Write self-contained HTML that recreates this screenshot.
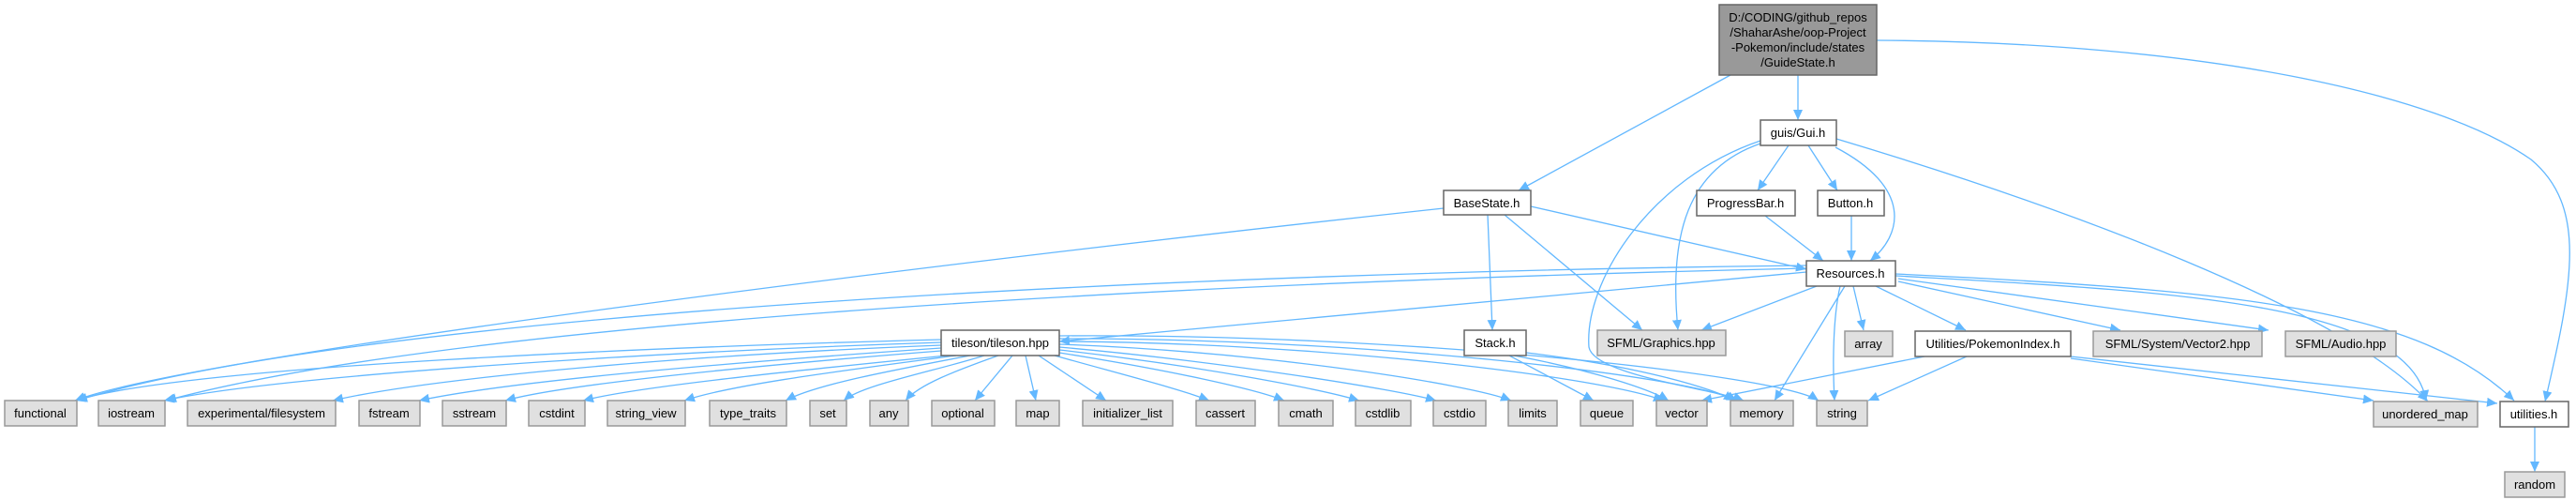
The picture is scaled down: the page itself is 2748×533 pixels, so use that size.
<!DOCTYPE html>
<html><head><meta charset="utf-8"><style>
html,body{margin:0;padding:0;background:#fff;width:2748px;height:533px;overflow:hidden}
svg text{font-family:"Liberation Sans",sans-serif;font-size:13px;fill:#000;text-anchor:middle}
.e{fill:none;stroke:#63b8ff;stroke-width:1.3;marker-end:url(#a)}
.w{fill:#fff;stroke:#666;stroke-width:1.5}
.g{fill:#e0e0e0;stroke:#999;stroke-width:1.5}
</style></head><body>
<svg width="2748" height="533" viewBox="0 0 2748 533" xmlns="http://www.w3.org/2000/svg">
<defs><marker id="a" markerUnits="userSpaceOnUse" markerWidth="12" markerHeight="10" refX="11" refY="5" orient="auto"><path d="M0,0 L11,5 L0,10 z" fill="#63b8ff"/></marker></defs>
<g>
<path class="e" d="M1004,362 C700,370 200,390 80,427"/>
<path class="e" d="M1004,365 C700,375 300,400 175,427"/>
<path class="e" d="M1004,368 C700,380 450,405 355,427"/>
<path class="e" d="M1004,371 C800,385 550,405 447,427"/>
<path class="e" d="M1004,374 C800,390 600,410 539,427"/>
<path class="e" d="M1010,379 C850,395 680,412 622,427"/>
<path class="e" d="M1020,379 C900,395 780,410 730,427"/>
<path class="e" d="M1035,379 C950,395 870,410 838,427"/>
<path class="e" d="M1050,379 C1000,395 920,410 900,427"/>
<path class="e" d="M1065,379 C1020,395 980,410 966,427"/>
<path class="e" d="M1080,379 L1040,427"/>
<path class="e" d="M1094,379 L1105,427"/>
<path class="e" d="M1108,379 L1180,427"/>
<path class="e" d="M1125,379 C1200,400 1260,415 1290,427"/>
<path class="e" d="M1130,376 C1250,395 1340,415 1370,427"/>
<path class="e" d="M1130,373 C1280,390 1410,415 1450,427"/>
<path class="e" d="M1130,370 C1300,385 1490,415 1532,427"/>
<path class="e" d="M1130,367 C1350,375 1570,410 1612,427"/>
<path class="e" d="M1130,364 C1400,365 1700,400 1775,427"/>
<path class="e" d="M1130,361 C1450,360 1800,400 1853,427"/>
<path class="e" d="M1130,358 C1500,355 1900,400 1940,427"/>
<path class="e" d="M1610,379 L1700,427"/>
<path class="e" d="M1615,379 C1700,395 1760,415 1780,427"/>
<path class="e" d="M1620,375 C1750,390 1830,415 1850,427"/>
<path class="e" d="M1540,222 C1000,280 200,380 80,427"/>
<path class="e" d="M1633,220 L1927,287"/>
<path class="e" d="M1587,229 L1592,352"/>
<path class="e" d="M1605,229 L1752,352"/>
<path class="e" d="M1846,80 L1620,203"/>
<path class="e" d="M1918,80 L1918,128"/>
<path class="e" d="M2002,43 C2350,45 2600,100 2700,170 C2760,220 2745,300 2715,428"/>
<path class="e" d="M1908,155 L1875,203"/>
<path class="e" d="M1929,155 L1960,203"/>
<path class="e" d="M1958,157 C2040,200 2030,250 1995,278"/>
<path class="e" d="M1878,153 C1800,180 1780,250 1790,352"/>
<path class="e" d="M1878,150 C1760,190 1690,300 1695,370 C1700,400 1830,415 1860,427"/>
<path class="e" d="M1959,148 C2200,220 2500,330 2590,428"/>
<path class="e" d="M1883,230 L1945,278"/>
<path class="e" d="M1975,230 L1975,278"/>
<path class="e" d="M1927,290 L1130,364"/>
<path class="e" d="M1927,283 C1300,290 400,330 82,427"/>
<path class="e" d="M1927,286 C1300,300 500,340 177,427"/>
<path class="e" d="M1938,305 L1815,352"/>
<path class="e" d="M1968,305 L1893,427"/>
<path class="e" d="M1963,305 C1955,340 1955,390 1957,427"/>
<path class="e" d="M1977,305 L1988,352"/>
<path class="e" d="M2001,305 L2097,352"/>
<path class="e" d="M2025,300 L2262,352"/>
<path class="e" d="M2025,297 L2420,352"/>
<path class="e" d="M2022,294 C2300,310 2570,320 2588,427"/>
<path class="e" d="M2022,292 C2400,310 2580,330 2682,427"/>
<path class="e" d="M2053,380 L1815,427"/>
<path class="e" d="M2098,380 L1993,427"/>
<path class="e" d="M2209,382 L2532,427"/>
<path class="e" d="M2209,380 L2664,430"/>
<path class="e" d="M2704,455 L2704,503"/>
</g>
<rect x="1834" y="5" width="168" height="75" fill="#999" stroke="#666" stroke-width="1.5"/>
<text x="1918" y="23">D:/CODING/github_repos</text>
<text x="1918" y="39">/ShaharAshe/oop-Project</text>
<text x="1918" y="55">-Pokemon/include/states</text>
<text x="1918" y="71">/GuideState.h</text>
<rect class="w" x="1878" y="128" width="81" height="27"/><text x="1918" y="146">guis/Gui.h</text>
<rect class="w" x="1540" y="203" width="93" height="26"/><text x="1586" y="221">BaseState.h</text>
<rect class="w" x="1810" y="203" width="105" height="27"/><text x="1862" y="221">ProgressBar.h</text>
<rect class="w" x="1939" y="203" width="71" height="27"/><text x="1974" y="221">Button.h</text>
<rect class="w" x="1927" y="278" width="95" height="27"/><text x="1974" y="296">Resources.h</text>
<rect class="w" x="1004" y="352" width="126" height="27"/><text x="1067" y="370">tileson/tileson.hpp</text>
<rect class="w" x="1562" y="352" width="66" height="27"/><text x="1595" y="370">Stack.h</text>
<rect class="g" x="1704" y="352" width="137" height="27"/><text x="1772" y="370">SFML/Graphics.hpp</text>
<rect class="g" x="1968" y="353" width="51" height="27"/><text x="1993" y="371">array</text>
<rect class="w" x="2043" y="353" width="166" height="27"/><text x="2126" y="371">Utilities/PokemonIndex.h</text>
<rect class="g" x="2233" y="353" width="180" height="27"/><text x="2323" y="371">SFML/System/Vector2.hpp</text>
<rect class="g" x="2438" y="353" width="118" height="27"/><text x="2497" y="371">SFML/Audio.hpp</text>
<g>
<rect class="g" x="5" y="427" width="77" height="27"/><text x="43" y="445">functional</text>
<rect class="g" x="105" y="427" width="71" height="27"/><text x="140" y="445">iostream</text>
<rect class="g" x="200" y="427" width="158" height="27"/><text x="279" y="445">experimental/filesystem</text>
<rect class="g" x="383" y="427" width="65" height="27"/><text x="415" y="445">fstream</text>
<rect class="g" x="472" y="427" width="68" height="27"/><text x="506" y="445">sstream</text>
<rect class="g" x="564" y="427" width="60" height="27"/><text x="594" y="445">cstdint</text>
<rect class="g" x="648" y="427" width="83" height="27"/><text x="689" y="445">string_view</text>
<rect class="g" x="757" y="427" width="82" height="27"/><text x="798" y="445">type_traits</text>
<rect class="g" x="864" y="427" width="39" height="27"/><text x="883" y="445">set</text>
<rect class="g" x="928" y="427" width="41" height="27"/><text x="948" y="445">any</text>
<rect class="g" x="994" y="427" width="67" height="27"/><text x="1027" y="445">optional</text>
<rect class="g" x="1084" y="427" width="46" height="27"/><text x="1107" y="445">map</text>
<rect class="g" x="1155" y="427" width="96" height="27"/><text x="1203" y="445">initializer_list</text>
<rect class="g" x="1276" y="427" width="63" height="27"/><text x="1307" y="445">cassert</text>
<rect class="g" x="1364" y="427" width="58" height="27"/><text x="1393" y="445">cmath</text>
<rect class="g" x="1446" y="427" width="59" height="27"/><text x="1475" y="445">cstdlib</text>
<rect class="g" x="1529" y="427" width="56" height="27"/><text x="1557" y="445">cstdio</text>
<rect class="g" x="1609" y="427" width="52" height="27"/><text x="1635" y="445">limits</text>
<rect class="g" x="1686" y="427" width="56" height="27"/><text x="1714" y="445">queue</text>
<rect class="g" x="1767" y="427" width="54" height="27"/><text x="1794" y="445">vector</text>
<rect class="g" x="1846" y="427" width="67" height="27"/><text x="1879" y="445">memory</text>
<rect class="g" x="1938" y="427" width="54" height="27"/><text x="1965" y="445">string</text>
<rect class="g" x="2532" y="428" width="111" height="27"/><text x="2587" y="446">unordered_map</text>
<rect class="w" x="2667" y="428" width="73" height="27"/><text x="2703" y="446">utilities.h</text>
<rect class="g" x="2672" y="503" width="64" height="27"/><text x="2704" y="521">random</text>
</g>
</svg>
</body></html>
